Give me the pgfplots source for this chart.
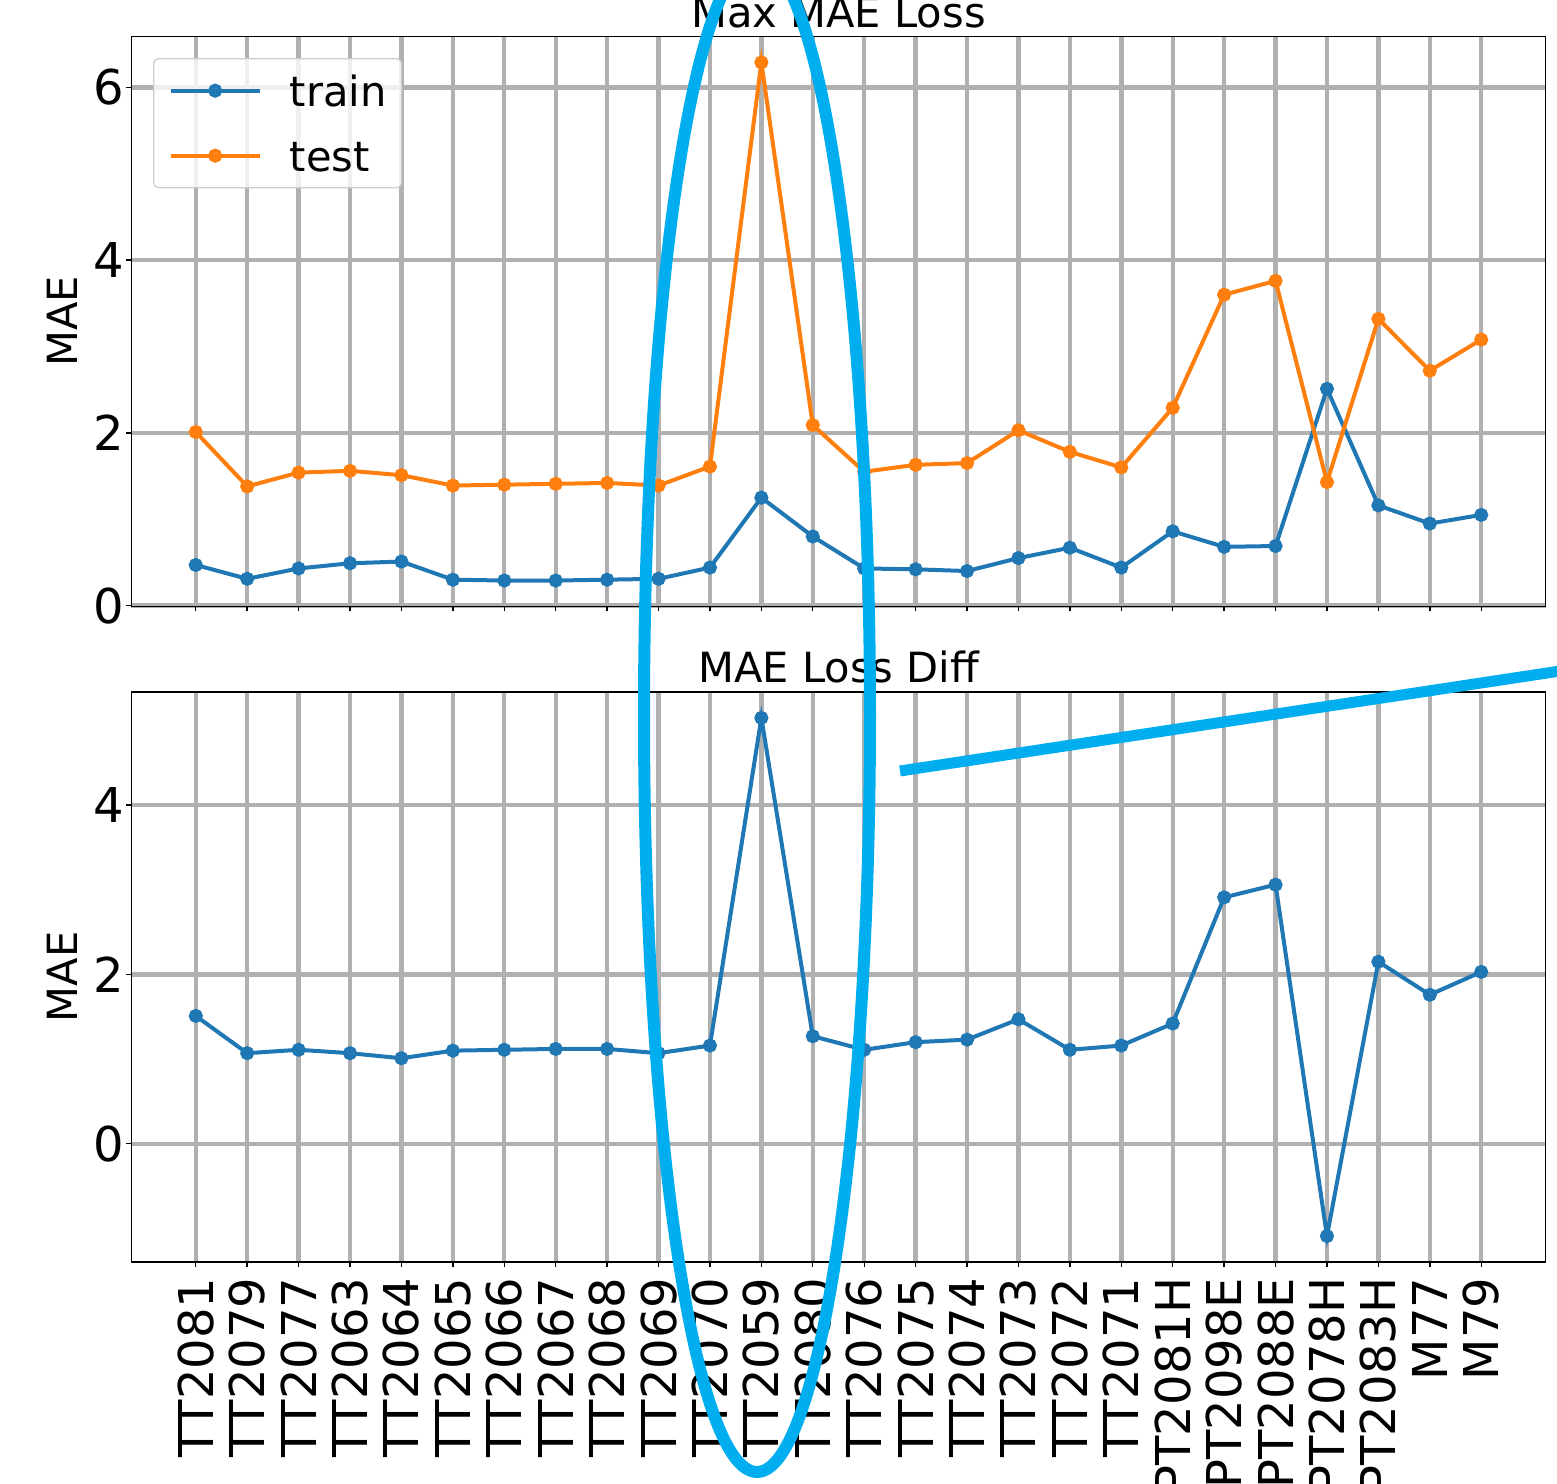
\documentclass[border=0pt]{standalone}
\usepackage{pgfplots}
\usepackage{pgfplotstable}
\pgfplotsset{compat=1.18}
\usepackage{fontspec}
\setmainfont{DejaVu Sans}
\definecolor{c1}{HTML}{1F77B4}
\definecolor{c2}{HTML}{FF7F0E}
\definecolor{gridc}{HTML}{B0B0B0}
\definecolor{annot}{RGB}{0,174,239}

\pgfplotstableread{
x train test
0 0.47 2.01
1 0.31 1.38
2 0.43 1.54
3 0.49 1.56
4 0.51 1.51
5 0.30 1.39
6 0.29 1.40
7 0.29 1.41
8 0.30 1.42
9 0.31 1.39
10 0.44 1.61
11 1.25 6.29
12 0.80 2.09
13 0.43 1.55
14 0.42 1.63
15 0.40 1.65
16 0.55 2.03
17 0.67 1.78
18 0.44 1.60
19 0.86 2.29
20 0.68 3.60
21 0.69 3.76
22 2.51 1.43
23 1.16 3.32
24 0.95 2.72
25 1.05 3.08
}\maxtable

\pgfplotstableread{
x diff
0 1.51
1 1.07
2 1.11
3 1.07
4 1.01
5 1.10
6 1.11
7 1.12
8 1.12
9 1.07
10 1.16
11 5.03
12 1.27
13 1.11
14 1.20
15 1.23
16 1.47
17 1.11
18 1.16
19 1.42
20 2.91
21 3.06
22 -1.09
23 2.15
24 1.76
25 2.03
}\difftable

\pgfplotsset{
  myaxis/.style={
    scale only axis, width=353.5pt, height=142.5pt,
    xmin=-1.25, xmax=26.25,
    xtick={0,...,25},
    grid=major,
    major grid style={draw=gridc, line width=1.1pt},
    tick align=outside, tick pos=left, major tick length=1.25pt,
    every tick/.style={black, line width=0.35pt},
    axis line style={black, line width=0.35pt},
    tick label style={font=\fontsize{12}{14}\selectfont},
    /pgf/number format/assume math mode=true,
    yticklabel style={inner sep=0pt, xshift=-0.4pt},
    ylabel style={font=\fontsize{10.4}{12}\selectfont, at={([xshift=-13.4pt]axis description cs:0,0.5)}, anchor=south, inner sep=0pt},
    title style={font=\fontsize{10.4}{12}\selectfont, at={(0.5,1)}, anchor=base, yshift=-3.75pt, inner sep=0pt},
    every axis plot/.append style={line width=1pt, mark=*, mark size=1.25pt, mark options={solid}},
  }
}

\begin{document}
\begin{tikzpicture}
\begin{axis}[myaxis,
  at={(32.875pt,-9.125pt)}, anchor=north west,
  ymin=-0.01, ymax=6.59, ytick={0,2,4,6},
  xticklabels={,,},
  title={Max MAE Loss}, ylabel={MAE},
  legend style={at={(0,1)}, anchor=north west, xshift=5.4pt, yshift=-5.4pt,
    draw=black!20, line width=0.3pt, rounded corners=1.2pt, fill=white, fill opacity=0.8, draw opacity=1, text opacity=1,
    font=\fontsize{10.4}{12}\selectfont, inner xsep=3.75pt, inner ysep=3pt, row sep=6.25pt,
    nodes={inner sep=0pt, text height=9pt, text depth=1pt},
    /tikz/every odd column/.append style={column sep=7pt}},
  legend cell align=left,
  legend image code/.code={\draw[mark repeat=2,mark phase=2] plot coordinates {(0pt,0pt) (11.125pt,0pt) (22.25pt,0pt)};},
]
\addplot[color=c1] table[x=x, y=train] {\maxtable};
\addlegendentry{train}
\addplot[color=c2] table[x=x, y=test] {\maxtable};
\addlegendentry{test}
\end{axis}
\begin{axis}[myaxis,
  at={(32.875pt,-173pt)}, anchor=north west,
  ymin=-1.396, ymax=5.336, ytick={0,2,4},
  xticklabels={TT2081,TT2079,TT2077,TT2063,TT2064,TT2065,TT2066,TT2067,TT2068,TT2069,TT2070,TT2059,TT2080,TT2076,TT2075,TT2074,TT2073,TT2072,TT2071,PT2081H,PT2098E,PT2088E,PT2078H,PT2083H,M77,M79},
  xticklabel style={rotate=90, anchor=east, inner xsep=2.5pt, inner ysep=0pt},
  title={MAE Loss Diff}, ylabel={MAE},
]
\addplot[color=c1] table[x=x, y=diff] {\difftable};
\end{axis}
\begin{scope}[x=0.25pt, y=-0.25pt]
\draw[annot, line width=3pt] (757,715) ellipse [x radius=28.25pt, y radius=189.25pt];
\draw[annot, line width=2.75pt] (900,771) -- (1600,665);
\end{scope}
\pgfresetboundingbox
\useasboundingbox (0pt,0pt) rectangle (389.25pt,-371pt);
\end{tikzpicture}
\end{document}
